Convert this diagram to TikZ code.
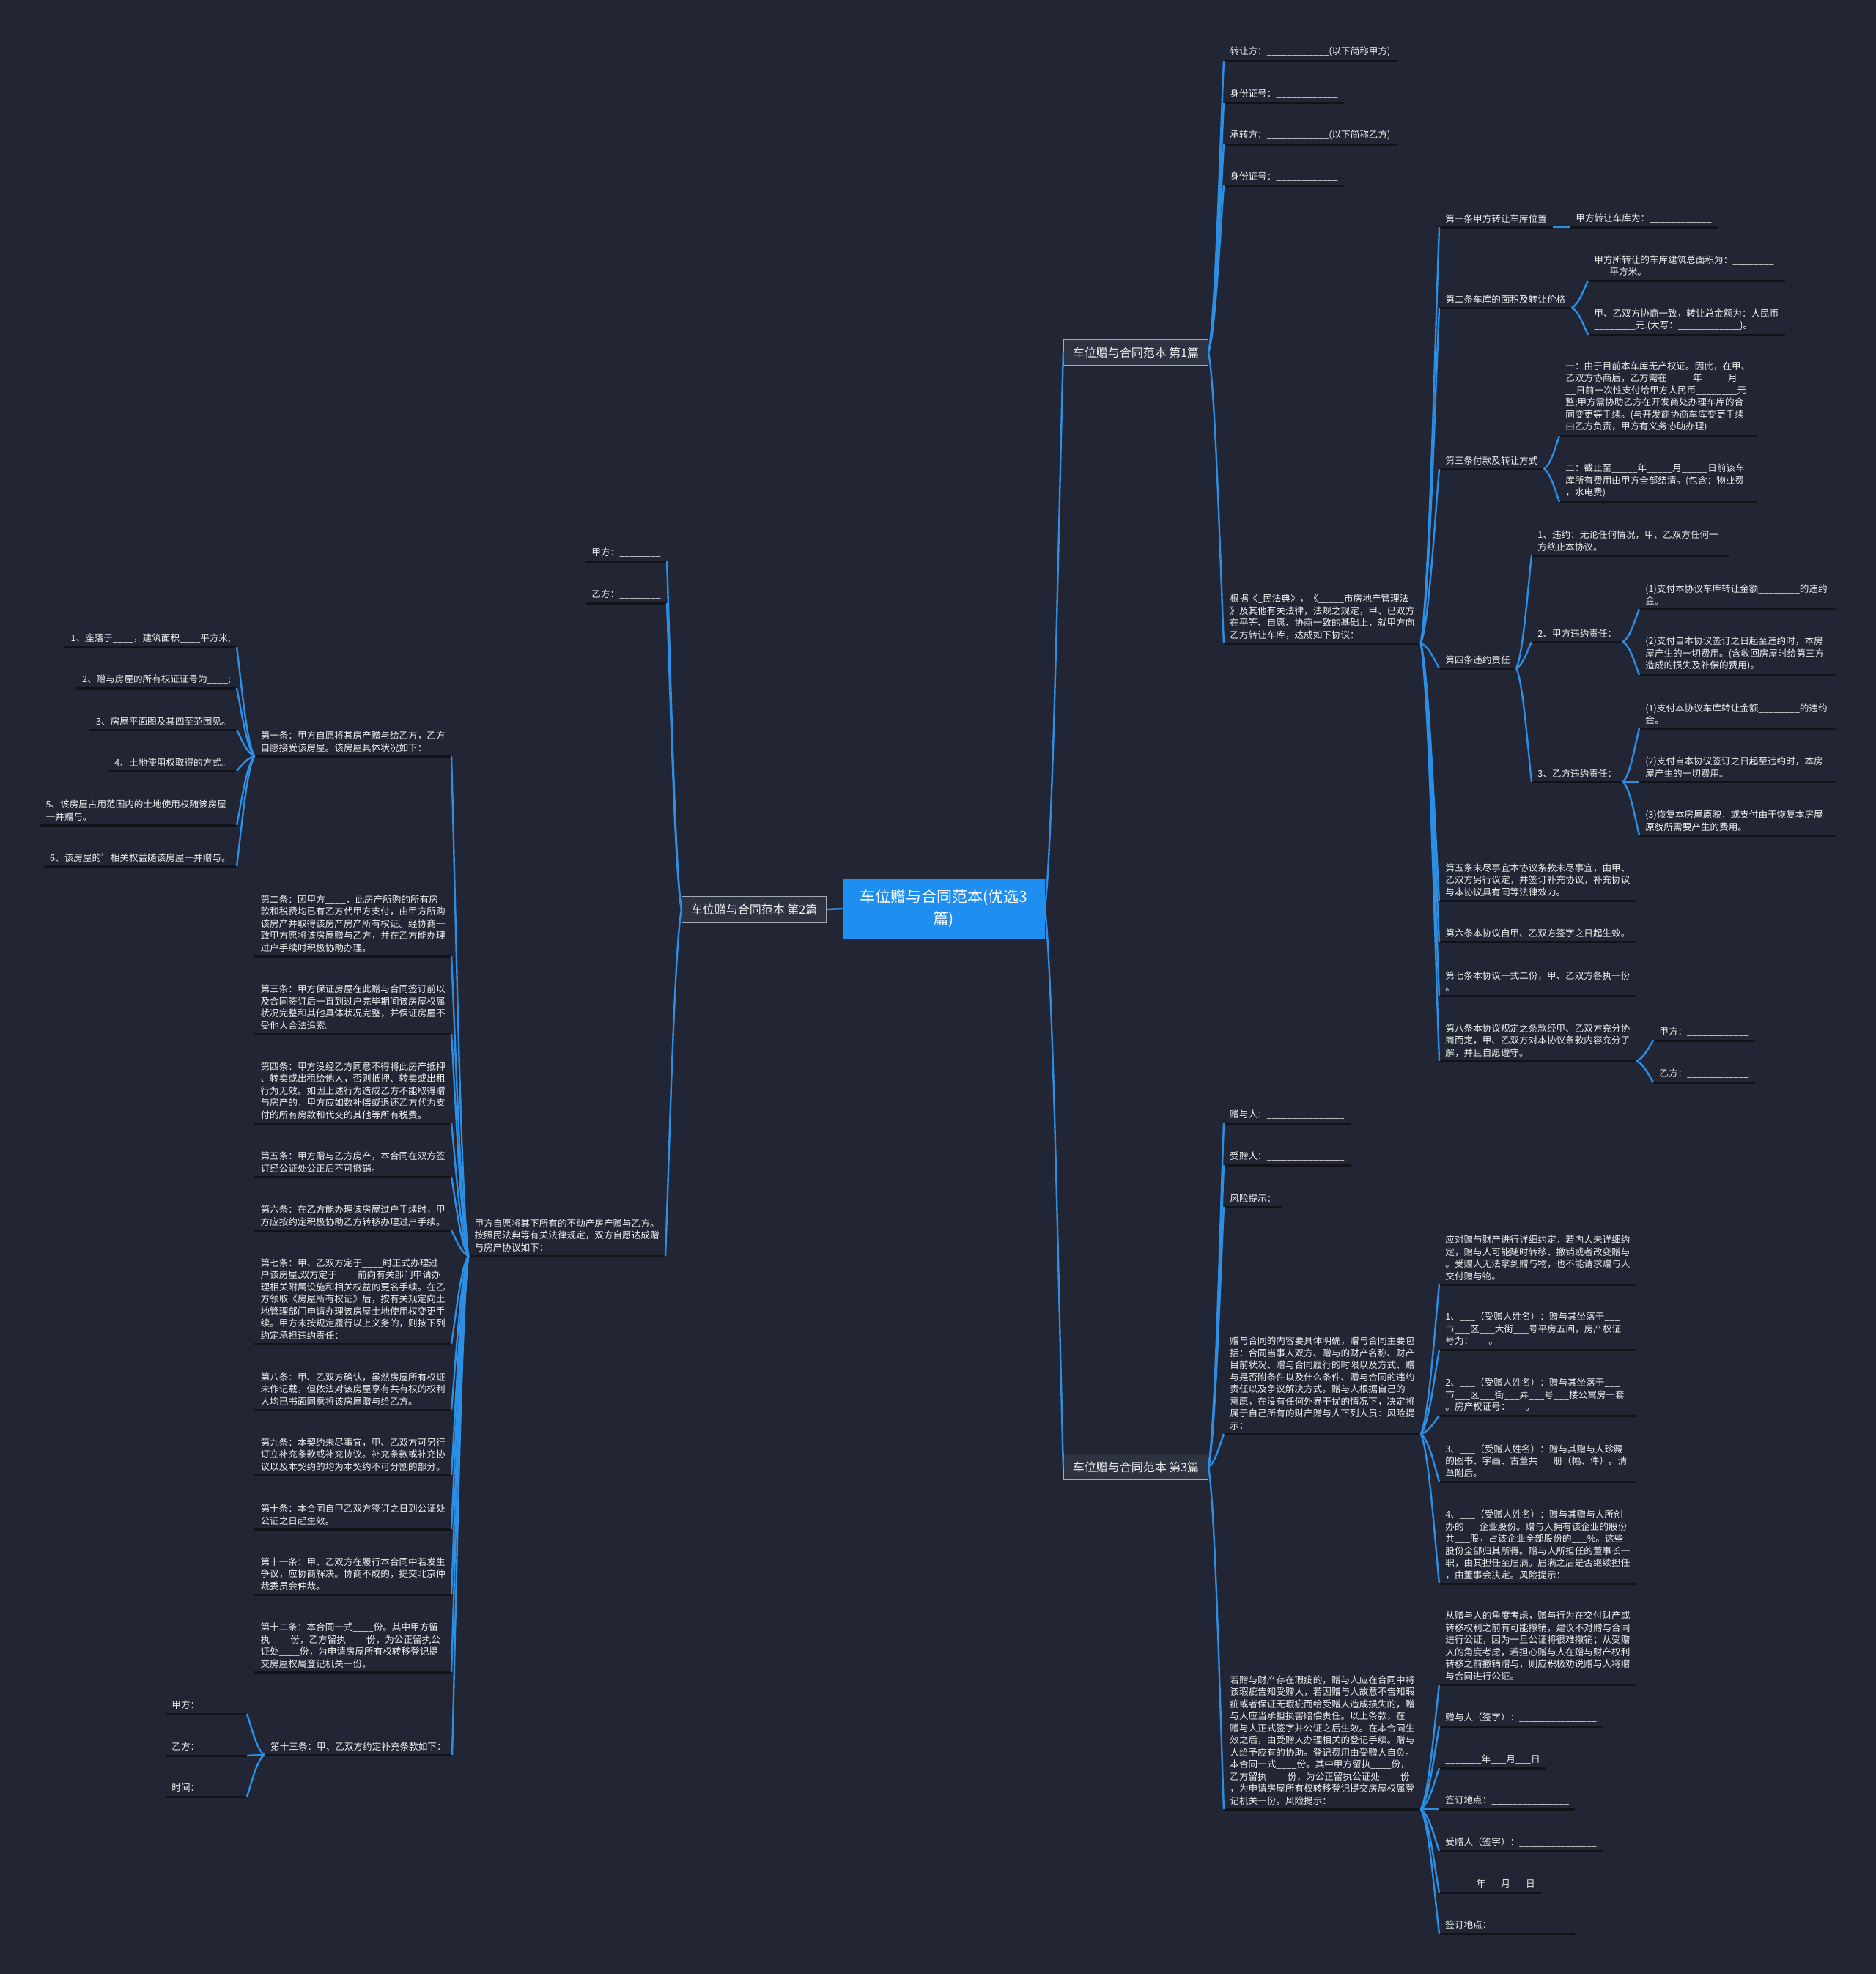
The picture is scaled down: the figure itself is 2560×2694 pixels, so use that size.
\documentclass[tikz,border=0pt]{standalone}
\usepackage{fontspec}
\setmainfont{Noto Sans CJK SC}
\usetikzlibrary{calc}

\definecolor{bgdark}{HTML}{222533}
\definecolor{linkblue}{HTML}{2B8FE6}
\definecolor{rootblue}{HTML}{1E8FF0}
\definecolor{boxgray}{HTML}{2E3342}
\definecolor{boxline}{HTML}{A3A9B5}
\definecolor{ulinedark}{HTML}{111318}
\definecolor{txtwhite}{HTML}{F0F0F0}

% blank to fill in
\ExplSyntaxOn
\NewDocumentCommand\fillin{m}{\prg_replicate:nn{#1}{\textunderscore}}
\ExplSyntaxOff

% curved connector, parent anchor -> child anchor
\newcommand{\branchlink}[2]{%
  \draw[branch] let \p1=(#1), \p2=(#2) in
    (\p1) .. controls ({\x1+0.45*(\x2-\x1)},{\y1+0.12*(\y2-\y1)})
    and ({\x2-0.25*(\x2-\x1)},{\y2-0.3*(\y2-\y1)}) .. (\p2);}

\begin{document}
\begin{tikzpicture}[x=0.5pt, y=-0.5pt,
    root/.style={rectangle, fill=rootblue, text=white, minimum width=137.5pt, minimum height=40.5pt, align=center, font=\fontsize{10.5}{15}\selectfont},
    sect/.style={rectangle, fill=boxgray, draw=boxline, line width=0.6pt, text=txtwhite, minimum width=98.5pt, minimum height=17.5pt, font=\fontsize{8}{10}\selectfont},
    leaf/.style={anchor=south west, inner xsep=4pt, inner ysep=2.6pt, align=left, text=txtwhite, font=\fontsize{6.3}{8.25}\selectfont},
    lleaf/.style={leaf, anchor=south east},
    para/.style={text width=126pt},
    uline/.style={ulinedark, line width=1.5pt},
    branch/.style={linkblue, line width=1.2pt}
]

\fill[bgdark] (0,0) rectangle (2560,2694);
\useasboundingbox (0,0) rectangle (2560,2694);

% Root and sections
\node[root] (root) at (1288,1240) {车位赠与合同范本(优选3\\篇)};
\node[sect] (s1) at (1550,481) {车位赠与合同范本 第1篇};
\node[sect] (s2) at (1029,1241) {车位赠与合同范本 第2篇};
\node[sect] (s3) at (1550,2002) {车位赠与合同范本 第3篇};

% Section 1
\node[leaf] (zr) at (1670,83) {转让方：\fillin{12}(以下简称甲方)};
\node[leaf] (zrid) at (1670,140) {身份证号：\fillin{12}};
\node[leaf] (cz) at (1670,197) {承转方：\fillin{12}(以下简称乙方)};
\node[leaf] (czid) at (1670,253) {身份证号：\fillin{12}};
\node[leaf,para] (gj) at (1670,878) {根据《\_民法典》，《\fillin{5}市房地产管理法\\》及其他有关法律，法规之规定，甲、已双方\\在平等、自愿、协商一致的基础上，就甲方向\\乙方转让车库，达成如下协议：};

\node[leaf] (t1) at (1964,310) {第一条甲方转让车库位置};
\node[leaf] (t1a) at (2142,310) {甲方转让车库为：\fillin{12}};
\node[leaf] (t2) at (1964,420) {第二条车库的面积及转让价格};
\node[leaf,para] (t2a) at (2167,383) {甲方所转让的车库建筑总面积为：\fillin{8}\\\fillin{3}平方米。};
\node[leaf,para] (t2b) at (2167,457) {甲、乙双方协商一致，转让总金额为：人民币\\\fillin{8}元.(大写：\fillin{12})。};
\node[leaf] (t3) at (1964,640) {第三条付款及转让方式};
\node[leaf,para] (t3a) at (2128,595) {一：由于目前本车库无产权证。因此，在甲、\\乙双方协商后，乙方需在\fillin{5}年\fillin{5}月\fillin{3}\\\fillin{2}日前一次性支付给甲方人民币\fillin{8}元\\整;甲方需协助乙方在开发商处办理车库的合\\同变更等手续。(与开发商协商车库变更手续\\由乙方负责，甲方有义务协助办理)};
\node[leaf,para] (t3b) at (2128,685) {二：截止至\fillin{5}年\fillin{5}月\fillin{5}日前该车\\库所有费用由甲方全部结清。(包含：物业费\\，水电费)};
\node[leaf] (t4) at (1964,912) {第四条违约责任};
\node[leaf,para] (t4a) at (2090,758) {1、违约：无论任何情况，甲、乙双方任何一\\方终止本协议。};
\node[leaf] (t4b) at (2090,876) {2、甲方违约责任：};
\node[leaf,para] (t4b1) at (2237,831) {(1)支付本协议车库转让金额\fillin{8}的违约\\金。};
\node[leaf,para] (t4b2) at (2237,921) {(2)支付自本协议签订之日起至违约时，本房\\屋产生的一切费用。(含收回房屋时给第三方\\造成的损失及补偿的费用)。};
\node[leaf] (t4c) at (2090,1067) {3、乙方违约责任：};
\node[leaf,para] (t4c1) at (2237,994) {(1)支付本协议车库转让金额\fillin{8}的违约\\金。};
\node[leaf,para] (t4c2) at (2237,1067) {(2)支付自本协议签订之日起至违约时，本房\\屋产生的一切费用。};
\node[leaf,para] (t4c3) at (2237,1140) {(3)恢复本房屋原貌，或支付由于恢复本房屋\\原貌所需要产生的费用。};
\node[leaf,para] (t5) at (1964,1229) {第五条未尽事宜本协议条款未尽事宜，由甲、\\乙双方另行议定，并签订补充协议，补充协议\\与本协议具有同等法律效力。};
\node[leaf,para] (t6) at (1964,1285) {第六条本协议自甲、乙双方签字之日起生效。};
\node[leaf,para] (t7) at (1964,1359) {第七条本协议一式二份，甲、乙双方各执一份\\。};
\node[leaf,para] (t8) at (1964,1448) {第八条本协议规定之条款经甲、乙双方充分协\\商而定，甲、乙双方对本协议条款内容充分了\\解，并且自愿遵守。};
\node[leaf] (t8a) at (2256,1420) {甲方：\fillin{12}};
\node[leaf] (t8b) at (2256,1477) {乙方：\fillin{12}};

% Section 3
\node[leaf] (zy) at (1670,1533) {赠与人：\fillin{15}};
\node[leaf] (sz) at (1670,1590) {受赠人：\fillin{15}};
\node[leaf] (fx) at (1670,1647) {风险提示：};
\node[leaf,para] (nr) at (1670,1957) {赠与合同的内容要具体明确，赠与合同主要包\\括：合同当事人双方、赠与的财产名称、财产\\目前状况、赠与合同履行的时限以及方式、赠\\与是否附条件以及什么条件、赠与合同的违约\\责任以及争议解决方式。赠与人根据自己的\\意愿，在没有任何外界干扰的情况下，决定将\\属于自己所有的财产赠与人下列人员：风险提\\示：};
\node[leaf,para] (xc) at (1670,2469) {若赠与财产存在瑕疵的，赠与人应在合同中将\\该瑕疵告知受赠人，若因赠与人故意不告知瑕\\疵或者保证无瑕疵而给受赠人造成损失的，赠\\与人应当承担损害赔偿责任。以上条款，在\\赠与人正式签字并公证之后生效。在本合同生\\效之后，由受赠人办理相关的登记手续。赠与\\人给予应有的协助。登记费用由受赠人自负。\\本合同一式\fillin{4}份。其中甲方留执\fillin{4}份，\\乙方留执\fillin{4}份，为公正留执公证处\fillin{4}份\\，为申请房屋所有权转移登记提交房屋权属登\\记机关一份。风险提示：};

\node[leaf,para] (nr1) at (1964,1753) {应对赠与财产进行详细约定，若内人未详细约\\定，赠与人可能随时转移、撤销或者改变赠与\\。受赠人无法拿到赠与物，也不能请求赠与人\\交付赠与物。};
\node[leaf,para] (nr2) at (1964,1842) {1、\fillin{3}（受赠人姓名）：赠与其坐落于\fillin{3}\\市\fillin{3}区\fillin{3}大街\fillin{3}号平房五间，房产权证\\号为：\fillin{3}。};
\node[leaf,para] (nr3) at (1964,1932) {2、\fillin{3}（受赠人姓名）：赠与其坐落于\fillin{3}\\市\fillin{3}区\fillin{3}街\fillin{3}弄\fillin{3}号\fillin{3}楼公寓房一套\\。房产权证号：\fillin{3}。};
\node[leaf,para] (nr4) at (1964,2022) {3、\fillin{3}（受赠人姓名）：赠与其赠与人珍藏\\的图书、字画、古董共\fillin{3}册（幅、件）。清\\单附后。};
\node[leaf,para] (nr5) at (1964,2161) {4、\fillin{3}（受赠人姓名）：赠与其赠与人所创\\办的\fillin{3}企业股份。赠与人拥有该企业的股份\\共\fillin{3}股，占该企业全部股份的\fillin{3}\%。这些\\股份全部归其所得。赠与人所担任的董事长一\\职，由其担任至届满。届满之后是否继续担任\\，由董事会决定。风险提示：};

\node[leaf,para] (xc1) at (1964,2299) {从赠与人的角度考虑，赠与行为在交付财产或\\转移权利之前有可能撤销，建议不对赠与合同\\进行公证，因为一旦公证将很难撤销；从受赠\\人的角度考虑，若担心赠与人在赠与财产权利\\转移之前撤销赠与，则应积极劝说赠与人将赠\\与合同进行公证。};
\node[leaf] (xc2) at (1964,2356) {赠与人（签字）：\fillin{15}};
\node[leaf] (xc3) at (1964,2413) {\fillin{7}年\fillin{3}月\fillin{3}日};
\node[leaf] (xc4) at (1964,2469) {签订地点：\fillin{15}};
\node[leaf] (xc5) at (1964,2526) {受赠人（签字）：\fillin{15}};
\node[leaf] (xc6) at (1964,2583) {\fillin{6}年\fillin{3}月\fillin{3}日};
\node[leaf] (xc7) at (1964,2639) {签订地点：\fillin{15}};

% Section 2 (left side)
\node[lleaf] (jf) at (910,766) {甲方：\fillin{8}};
\node[lleaf] (yf) at (910,823) {乙方：\fillin{8}};
\node[lleaf,para] (zyyz) at (908,1714) {甲方自愿将其下所有的不动产房产赠与乙方。\\按照民法典等有关法律规定，双方自愿达成赠\\与房产协议如下：};

\node[lleaf,para] (k1) at (616,1032) {第一条：甲方自愿将其房产赠与给乙方，乙方\\自愿接受该房屋。该房屋具体状况如下：};
\node[lleaf] (k1a) at (323,883) {1、座落于\fillin{4}，建筑面积\fillin{4}平方米;};
\node[lleaf] (k1b) at (323,939) {2、赠与房屋的所有权证证号为\fillin{4};};
\node[lleaf] (k1c) at (323,996) {3、房屋平面图及其四至范围见。};
\node[lleaf] (k1d) at (323,1052) {4、土地使用权取得的方式。};
\node[lleaf,para] (k1e) at (323,1126) {5、该房屋占用范围内的土地使用权随该房屋\\一并赠与。};
\node[lleaf] (k1f) at (323,1182) {6、该房屋的'相关权益随该房屋一并赠与。};
\node[lleaf,para] (k2) at (616,1305) {第二条：因甲方\fillin{4}，此房产所购的所有房\\款和税费均已有乙方代甲方支付，由甲方所购\\该房产并取得该房产房产所有权证。经协商一\\致甲方愿将该房屋赠与乙方，并在乙方能办理\\过户手续时积极协助办理。};
\node[lleaf,para] (k3) at (616,1411) {第三条：甲方保证房屋在此赠与合同签订前以\\及合同签订后一直到过户完毕期间该房屋权属\\状况完整和其他具体状况完整，并保证房屋不\\受他人合法追索。};
\node[lleaf,para] (k4) at (616,1533) {第四条：甲方没经乙方同意不得将此房产抵押\\、转卖或出租给他人，否则抵押、转卖或出租\\行为无效。如因上述行为造成乙方不能取得赠\\与房产的，甲方应如数补偿或退还乙方代为支\\付的所有房款和代交的其他等所有税费。};
\node[lleaf,para] (k5) at (616,1606) {第五条：甲方赠与乙方房产，本合同在双方签\\订经公证处公正后不可撤销。};
\node[lleaf,para] (k6) at (616,1679) {第六条：在乙方能办理该房屋过户手续时，甲\\方应按约定积极协助乙方转移办理过户手续。};
\node[lleaf,para] (k7) at (616,1834) {第七条：甲、乙双方定于\fillin{4}时正式办理过\\户该房屋,双方定于\fillin{4}前向有关部门申请办\\理相关附属设施和相关权益的更名手续。在乙\\方领取《房屋所有权证》后，按有关规定向土\\地管理部门申请办理该房屋土地使用权变更手\\续。甲方未按规定履行以上义务的，则按下列\\约定承担违约责任：};
\node[lleaf,para] (k8) at (616,1924) {第八条：甲、乙双方确认，虽然房屋所有权证\\未作记载，但依法对该房屋享有共有权的权利\\人均已书面同意将该房屋赠与给乙方。};
\node[lleaf,para] (k9) at (616,2013) {第九条：本契约未尽事宜，甲、乙双方可另行\\订立补充条款或补充协议。补充条款或补充协\\议以及本契约的均为本契约不可分割的部分。};
\node[lleaf,para] (k10) at (616,2087) {第十条：本合同自甲乙双方签订之日到公证处\\公证之日起生效。};
\node[lleaf,para] (k11) at (616,2176) {第十一条：甲、乙双方在履行本合同中若发生\\争议，应协商解决。协商不成的，提交北京仲\\裁委员会仲裁。};
\node[lleaf,para] (k12) at (616,2282) {第十二条：本合同一式\fillin{4}份。其中甲方留\\执\fillin{4}份，乙方留执\fillin{4}份，为公正留执公\\证处\fillin{4}份，为申请房屋所有权转移登记提\\交房屋权属登记机关一份。};
\node[lleaf] (k13) at (617,2395) {第十三条：甲、乙双方约定补充条款如下：};
\node[lleaf] (k13a) at (337,2339) {甲方：\fillin{8}};
\node[lleaf] (k13b) at (337,2396) {乙方：\fillin{8}};
\node[lleaf] (k13c) at (337,2452) {时间：\fillin{8}};

% Underlines
\foreach \n in {zr,zrid,cz,czid,gj,t1,t1a,t2,t2a,t2b,t3,t3a,t3b,t4,t4a,t4b,t4b1,t4b2,t4c,t4c1,t4c2,t4c3,t5,t6,t7,t8,t8a,t8b,
    zy,sz,fx,nr,xc,nr1,nr2,nr3,nr4,nr5,xc1,xc2,xc3,xc4,xc5,xc6,xc7,
    jf,yf,zyyz,k1,k1a,k1b,k1c,k1d,k1e,k1f,k2,k3,k4,k5,k6,k7,k8,k9,k10,k11,k12,k13,k13a,k13b,k13c}
  \draw[uline] (\n.south west) -- (\n.south east);

% Connectors
\draw[branch] (root.west) -- (s2.east);
\branchlink{root.east}{s1.west}
\branchlink{root.east}{s3.west}

\foreach \c in {zr,zrid,cz,czid,gj} \branchlink{s1.east}{\c.south west};
\foreach \c in {t1,t2,t3,t4,t5,t6,t7,t8} \branchlink{gj.south east}{\c.south west};
\branchlink{t1.south east}{t1a.south west}
\foreach \c in {t2a,t2b} \branchlink{t2.south east}{\c.south west};
\foreach \c in {t3a,t3b} \branchlink{t3.south east}{\c.south west};
\foreach \c in {t4a,t4b,t4c} \branchlink{t4.south east}{\c.south west};
\foreach \c in {t4b1,t4b2} \branchlink{t4b.south east}{\c.south west};
\foreach \c in {t4c1,t4c2,t4c3} \branchlink{t4c.south east}{\c.south west};
\foreach \c in {t8a,t8b} \branchlink{t8.south east}{\c.south west};

\foreach \c in {zy,sz,fx,nr,xc} \branchlink{s3.east}{\c.south west};
\foreach \c in {nr1,nr2,nr3,nr4,nr5} \branchlink{nr.south east}{\c.south west};
\foreach \c in {xc1,xc2,xc3,xc4,xc5,xc6,xc7} \branchlink{xc.south east}{\c.south west};

\foreach \c in {jf,yf,zyyz} \branchlink{s2.west}{\c.south east};
\foreach \c in {k1,k2,k3,k4,k5,k6,k7,k8,k9,k10,k11,k12,k13} \branchlink{zyyz.south west}{\c.south east};
\foreach \c in {k1a,k1b,k1c,k1d,k1e,k1f} \branchlink{k1.south west}{\c.south east};
\foreach \c in {k13a,k13b,k13c} \branchlink{k13.south west}{\c.south east};

\end{tikzpicture}
\end{document}
